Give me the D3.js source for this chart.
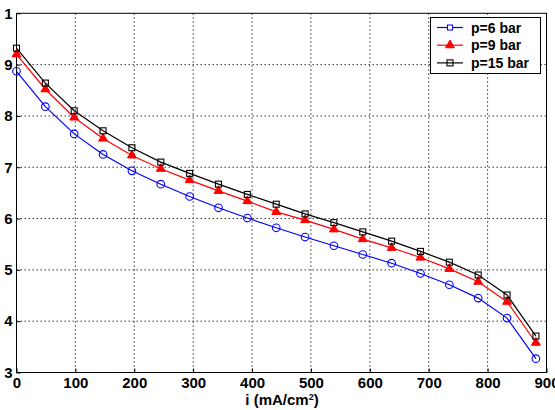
<!DOCTYPE html>
<html><head><meta charset="utf-8">
<script src="https://cdn.jsdelivr.net/npm/d3@7"></script>
<style>body{margin:0;background:#fff}svg{display:block}</style>
</head><body>
<svg id="c" width="555" height="410"></svg>
<script>
const currents = [0,49,98,147,196,245,294,343,392,441,490,539,588,637,686,735,784,833,882];
const p6  = [8.87,8.18,7.65,7.25,6.93,6.67,6.43,6.21,6.01,5.82,5.64,5.47,5.30,5.13,4.93,4.71,4.45,4.06,3.27];
const p9  = [9.20,8.52,7.97,7.56,7.23,6.97,6.75,6.54,6.34,6.13,5.97,5.79,5.60,5.43,5.24,5.02,4.77,4.38,3.58];
const p15 = [9.32,8.64,8.10,7.71,7.38,7.10,6.88,6.67,6.47,6.28,6.09,5.92,5.74,5.56,5.36,5.15,4.90,4.51,3.71];
const xTicks = [0,100,200,300,400,500,600,700,800,900];
const yTicks = [3,4,5,6,7,8,9,10];
const yTickLabels = ["3","4","5","6","7","8","9","1"];
const seriesNames = ["p=6 bar","p=9 bar","p=15 bar"];
const seriesColors = ["#0000ff","#ff0000","#000000"];
const seriesMarkers = ["circle","triangle","square"];

const svg = d3.select("#c");
const L=16.5, R=546.5, T=13.3, B=372.5;
const x = d3.scaleLinear().domain([0,900]).range([L,R]);
const y = d3.scaleLinear().domain([3,10]).range([B,T]);
const font = "Arial, 'Liberation Sans', sans-serif";

// grid
const g = svg.append("g");
g.selectAll(".vg").data(xTicks.slice(1,-1)).join("line")
  .attr("x1",d=>x(d)).attr("x2",d=>x(d)).attr("y1",T).attr("y2",B)
  .attr("stroke","#333").attr("stroke-width",1).attr("stroke-dasharray","1.5,2.5");
g.selectAll(".hg").data(yTicks.slice(1,-1)).join("line")
  .attr("x1",L).attr("x2",R).attr("y1",d=>y(d)).attr("y2",d=>y(d))
  .attr("stroke","#333").attr("stroke-width",1).attr("stroke-dasharray","1.5,2.5");

// axes
const xa = svg.append("g").attr("transform",`translate(0,${B})`)
  .call(d3.axisBottom(x).tickValues(xTicks).tickSize(-4).tickPadding(8).tickFormat(d3.format("d")));
const ya = svg.append("g").attr("transform",`translate(${L},0)`)
  .call(d3.axisLeft(y).tickValues(yTicks).tickSize(-4).tickPadding(4).tickFormat((d,i)=>yTickLabels[i]));
[xa,ya].forEach(a=>{
  a.select(".domain").remove();
  a.selectAll("line").attr("stroke","#000");
  a.selectAll("text").attr("font-family",font).attr("font-weight","bold").attr("font-size",15).attr("fill","#000");
});
xa.selectAll("text").attr("dy","0.5em");
// box
svg.append("rect").attr("x",L).attr("y",T).attr("width",R-L).attr("height",B-T)
  .attr("fill","none").attr("stroke","#000").attr("stroke-width",1);

// x label
svg.append("text").attr("x",282).attr("y",405).attr("text-anchor","middle")
  .attr("font-family",font).attr("font-weight","bold").attr("font-size",15)
  .html('i (mA/cm<tspan dy="-5" font-size="9">2</tspan><tspan dy="5">)</tspan>');

// series
const allSeries = [p6,p9,p15];
function marker(sel,type,color){
  if(type==="circle"){
    sel.append("circle").attr("r",3.8).attr("fill","none").attr("stroke",color).attr("stroke-width",1.1);
  } else if(type==="triangle"){
    sel.append("path").attr("d",d3.symbol(d3.symbolTriangle,34)()).attr("fill",color).attr("stroke",color);
  } else {
    sel.append("rect").attr("x",-3).attr("y",-3).attr("width",6).attr("height",6)
      .attr("fill","none").attr("stroke",color).attr("stroke-width",1.1);
  }
}
const line = d3.line().x(d=>x(d[0])).y(d=>y(d[1]));
allSeries.forEach((vals,si)=>{
  const pts = currents.map((c,i)=>[c,vals[i]]);
  svg.append("path").datum(pts).attr("d",line).attr("fill","none")
    .attr("stroke",seriesColors[si]).attr("stroke-width",1.2);
  pts.forEach(p=>{
    const m = svg.append("g").attr("transform",`translate(${x(p[0])},${y(p[1])})`);
    marker(m,seriesMarkers[si],seriesColors[si]);
  });
});

// legend
const lg = svg.append("g");
lg.append("rect").attr("x",430.5).attr("y",17.5).attr("width",110).attr("height",56)
  .attr("fill","#fff").attr("stroke","#000").attr("stroke-width",1);
seriesNames.forEach((n,i)=>{
  const yy = 27.5 + i*17.7;
  lg.append("line").attr("x1",437).attr("x2",463).attr("y1",yy).attr("y2",yy)
    .attr("stroke",seriesColors[i]).attr("stroke-width",1.2);
  const m = lg.append("g").attr("transform",`translate(450,${yy})`);
  if(seriesMarkers[i]==="circle"){
    m.append("rect").attr("x",-2.5).attr("y",-2.5).attr("width",5).attr("height",5)
      .attr("fill","#fff").attr("stroke",seriesColors[i]).attr("stroke-width",1);
  } else marker(m,seriesMarkers[i],seriesColors[i]);
  lg.append("text").attr("x",471).attr("y",yy+5).attr("font-family",font)
    .attr("font-weight","bold").attr("font-size",14).text(n);
});
</script>
</body></html>
